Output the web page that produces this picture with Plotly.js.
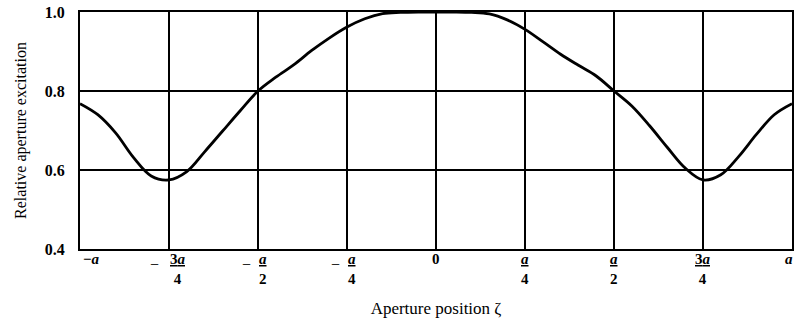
<!DOCTYPE html>
<html><head><meta charset="utf-8">
<script src="https://cdn.plot.ly/plotly-3.0.1.min.js"></script>
<style>body{margin:0;background:#fff}#c{width:804px;height:325px}</style>
</head><body><div id="c"></div>
<script>
// aperture position (units of a) and relative excitation
const xPos = [-1.0,-0.95,-0.9,-0.85,-0.8,-0.75,-0.7,-0.65,-0.6,-0.55,-0.5,-0.45,-0.4,-0.35,-0.3,-0.25,-0.2,-0.15,-0.1,-0.05,0,0.05,0.1,0.15,0.2,0.25,0.3,0.35,0.4,0.45,0.5,0.55,0.6,0.65,0.7,0.75,0.8,0.85,0.9,0.95,1.0];
const excitation = [0.768,0.74,0.694,0.632,0.585,0.575,0.596,0.646,0.698,0.75,0.80,0.835,0.866,0.902,0.934,0.962,0.983,0.996,0.999,1.0,1.0,1.0,0.999,0.995,0.98,0.956,0.925,0.893,0.865,0.838,0.80,0.762,0.712,0.657,0.605,0.575,0.588,0.634,0.69,0.74,0.768];
// x tick labels
const tickVals = [-1,-0.75,-0.5,-0.25,0,0.25,0.5,0.75,1];
const tickSign = ["−","−","−","−","","","","",""];
const tickNum = ["<i>a</i>","3<i>a</i>","<i>a</i>","<i>a</i>","0","<i>a</i>","<i>a</i>","3<i>a</i>","<i>a</i>"];
const tickDen = ["","4","2","4","","4","2","4",""];
const yTicks = [0.4,0.6,0.8,1.0];
const yTickText = ["0.4","0.6","0.8","1.0"];

const font = {family:"Liberation Serif, Times New Roman, serif", color:"#000"};
const ann = [];
tickVals.forEach((v,i)=>{
  const frac = tickDen[i] !== "";
  const edge = v === -1 ? 11 : (v === 1 ? -3 : 0);
  if (!frac) {
    ann.push({x:v, xref:"x", y:0, yref:"paper", yanchor:"top", yshift:0, xshift:edge,
      text:tickSign[i]+tickNum[i], showarrow:false, font:Object.assign({size:15, weight:"bold"},font)});
  } else {
    const wide = tickNum[i].length > 8;
    ann.push({x:v, xref:"x", y:0, yref:"paper", yanchor:"top", yshift:0, xshift: tickSign[i] ? (wide ? 9 : 5) : 0,
      text:"<u>"+tickNum[i]+"</u><br>"+tickDen[i], showarrow:false, font:Object.assign({size:15, weight:"bold"},font)});
    if (tickSign[i]) ann.push({x:v, xref:"x", y:0, yref:"paper", yanchor:"middle", yshift:-15, xshift: wide ? -15 : -12,
      text:tickSign[i], showarrow:false, font:Object.assign({size:16},font)});
  }
});

const data = [{x:xPos, y:excitation, type:"scatter", mode:"lines",
  line:{color:"#000", width:2.8, shape:"spline", smoothing:1}, hoverinfo:"none"}];

const layout = {
  width:804, height:325,
  margin:{l:80, r:12, t:12, b:76},
  paper_bgcolor:"#fff", plot_bgcolor:"#fff",
  showlegend:false,
  font:Object.assign({size:14}, font),
  xaxis:{range:[-1,1], tickvals:tickVals, showticklabels:false, ticks:"",
    showgrid:true, gridcolor:"#000", gridwidth:2, zeroline:false,
    showline:true, linecolor:"#000", linewidth:2, mirror:true,
    title:{text:"Aperture position ζ", font:Object.assign({size:17},font), standoff:52}},
  yaxis:{range:[0.4,1.0], tickvals:yTicks, ticktext:yTickText, ticks:"", ticklabelstandoff:10,
    showgrid:true, gridcolor:"#000", gridwidth:2, zeroline:false,
    showline:true, linecolor:"#000", linewidth:2, mirror:true,
    tickfont:Object.assign({size:16, weight:"bold"},font),
    title:{text:"Relative aperture excitation", font:Object.assign({size:16},font), standoff:14}},
  annotations:ann
};
Plotly.newPlot("c", data, layout, {staticPlot:true});
</script></body></html>
